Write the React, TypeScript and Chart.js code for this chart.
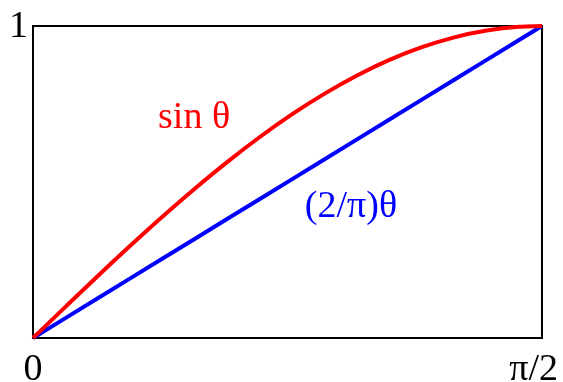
import React, { useEffect, useRef } from "react";
import { Chart, registerables } from "chart.js";

Chart.register(...registerables);

// Angle samples (radians) from 0 to π/2
const theta = [0, 0.1, 0.2, 0.3, 0.4, 0.5, 0.6, 0.7, 0.8, 0.9, 1.0, 1.1, 1.2, 1.3, 1.4, 1.5, 1.5708];
// sin θ at each sample
const sinValues = [0, 0.0998, 0.1987, 0.2955, 0.3894, 0.4794, 0.5646, 0.6442, 0.7174, 0.7833, 0.8415, 0.8912, 0.932, 0.9636, 0.9854, 0.9975, 1.0];
// (2/π)θ at each sample
const chordValues = [0, 0.0637, 0.1273, 0.191, 0.2546, 0.3183, 0.382, 0.4456, 0.5093, 0.573, 0.6366, 0.7003, 0.7639, 0.8276, 0.8913, 0.9549, 1.0];

const seriesNames = ["sin θ", "(2/π)θ"];
const seriesColors = ["#ff0000", "#0000ff"];
// where each curve's name sits, in data units (θ, value)
const seriesLabelAt = [
  [0.386, 0.705],
  [0.839, 0.42],
];

const xTickValues = [0, 1.5708];
const xTickLabels = ["0", "π/2"];
const yTickValues = [1];
const yTickLabels = ["1"];

const FONT = '38px "Liberation Serif", "Times New Roman", serif';

const framePlugin = {
  id: "frame",
  beforeDatasetsDraw(chart: any) {
    const { ctx, chartArea } = chart;
    ctx.save();
    ctx.strokeStyle = "#000";
    ctx.lineWidth = 2;
    ctx.strokeRect(chartArea.left, chartArea.top, chartArea.right - chartArea.left, chartArea.bottom - chartArea.top);
    ctx.restore();
  },
  afterDraw(chart: any) {
    const { ctx, chartArea, scales } = chart;
    const xs = scales.x;
    const ys = scales.y;
    ctx.save();
    ctx.font = FONT;
    ctx.fillStyle = "#000";
    // x tick labels under the bottom edge
    ctx.textBaseline = "alphabetic";
    xTickValues.forEach((v, i) => {
      const px = xs.getPixelForValue(v);
      ctx.textAlign = i === 0 ? "center" : "right";
      const dx = i === 0 ? 0 : 16;
      ctx.fillText(xTickLabels[i], px + dx, chartArea.bottom + 42);
    });
    // y tick labels left of the frame
    ctx.textAlign = "right";
    ctx.textBaseline = "middle";
    yTickValues.forEach((v, i) => {
      ctx.fillText(yTickLabels[i], chartArea.left - 5, ys.getPixelForValue(v) + 1);
    });
    // curve names
    ctx.textAlign = "left";
    seriesNames.forEach((name, i) => {
      ctx.fillStyle = seriesColors[i];
      const [tx, ty] = seriesLabelAt[i];
      ctx.fillText(name, xs.getPixelForValue(tx), ys.getPixelForValue(ty));
    });
    ctx.restore();
  },
};

export default function App() {
  const canvasRef = useRef<HTMLCanvasElement | null>(null);

  useEffect(() => {
    document.body.style.margin = "0";
    const canvas = canvasRef.current;
    if (!canvas) return;
    const chart = new Chart(canvas, {
      type: "line",
      data: {
        datasets: [
          {
            label: seriesNames[0],
            data: theta.map((t, i) => ({ x: t, y: sinValues[i] })),
            borderColor: seriesColors[0],
            borderWidth: 4,
            pointRadius: 0,
            cubicInterpolationMode: "monotone",
            clip: 4,
          },
          {
            label: seriesNames[1],
            data: theta.map((t, i) => ({ x: t, y: chordValues[i] })),
            borderColor: seriesColors[1],
            borderWidth: 4,
            pointRadius: 0,
            tension: 0,
            clip: 4,
          },
        ],
      },
      options: {
        responsive: false,
        animation: false,
        devicePixelRatio: 1,
        layout: { padding: { left: 33, top: 26, right: 21, bottom: 44 } },
        plugins: { legend: { display: false }, tooltip: { enabled: false } },
        scales: {
          x: { type: "linear", min: 0, max: 1.5708, display: false },
          y: { type: "linear", min: 0, max: 1, display: false },
        },
      },
      plugins: [framePlugin],
    });
    return () => chart.destroy();
  }, []);

  return (
    <div style={{ width: 563, height: 382, background: "#fff" }}>
      <canvas ref={canvasRef} width={563} height={382} />
    </div>
  );
}
